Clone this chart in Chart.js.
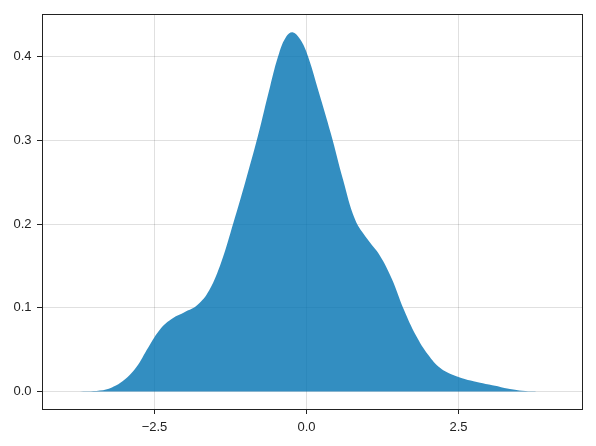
<!DOCTYPE html>
<html>
<head>
<meta charset="utf-8">
<script src="https://cdn.jsdelivr.net/npm/chart.js@4"></script>
<style>
html,body{margin:0;padding:0;background:#fff;}
#wrap{width:596px;height:446px;}
</style>
</head>
<body>
<div id="wrap"><canvas id="c" width="596" height="446"></canvas></div>
<script>
// Density curve
const xValues = [-3.85,-3.6,-3.4,-3.2,-3.0,-2.8,-2.6,-2.4,-2.2,-2.0,-1.8,-1.6,-1.4,-1.2,-1.0,-0.8,-0.6,-0.45,-0.33,-0.23,-0.12,0.0,0.2,0.4,0.6,0.8,1.0,1.2,1.4,1.6,1.8,2.0,2.2,2.4,2.6,2.8,3.0,3.2,3.4,3.6,3.9];
const densityValues = [0,0.0003,0.0012,0.005,0.0137,0.029,0.053,0.075,0.0875,0.095,0.103,0.121,0.155,0.202,0.252,0.305,0.364,0.404,0.424,0.429,0.422,0.405,0.358,0.308,0.253,0.205,0.182,0.163,0.135,0.098,0.067,0.044,0.028,0.020,0.015,0.0115,0.0083,0.0053,0.0024,0.0006,0];
const xTicks = [-2.5, 0.0, 2.5];
const yTicks = [0.0, 0.1, 0.2, 0.3, 0.4];

const points = xValues.map((x, i) => ({x: x, y: densityValues[i]}));
const fmt = v => v.toFixed(1).replace('-', '\u2212');

const framePlugin = {
  id: 'frame',
  afterDraw(chart) {
    const a = chart.chartArea, ctx = chart.ctx;
    ctx.save();
    ctx.strokeStyle = '#222';
    ctx.lineWidth = 1;
    ctx.strokeRect(Math.round(a.left) + 0.5, Math.round(a.top) + 0.5, Math.round(a.right - a.left), Math.round(a.bottom - a.top));
    ctx.restore();
  }
};

new Chart(document.getElementById('c'), {
  type: 'line',
  data: {
    datasets: [{
      data: points,
      fill: 'origin',
      backgroundColor: 'rgba(0,114,178,0.8)',
      borderWidth: 0,
      pointRadius: 0,
      tension: 0.4
    }]
  },
  options: {
    responsive: false,
    animation: false,
    events: [],
    layout: {padding: {left: 0, top: 14, right: 14, bottom: 0}},
    plugins: {legend: {display: false}, tooltip: {enabled: false}},
    scales: {
      x: {
        type: 'linear',
        min: -4.35, max: 4.53,
        afterBuildTicks: s => { s.ticks = xTicks.map(v => ({value: v})); },
        afterFit: s => { s.height = 37; },
        grid: {color: 'rgba(0,0,0,0.12)', tickColor: '#222', tickLength: 5, drawTicks: true},
        border: {display: false},
        ticks: {callback: v => fmt(v), color: '#222', font: {family: 'Liberation Sans', size: 13}, padding: 6, maxRotation: 0}
      },
      y: {
        type: 'linear',
        min: -0.0208, max: 0.4507,
        afterBuildTicks: s => { s.ticks = yTicks.map(v => ({value: v})); },
        afterFit: s => { s.width = 42; },
        grid: {color: 'rgba(0,0,0,0.12)', tickColor: '#222', tickLength: 5, drawTicks: true},
        border: {display: false},
        ticks: {callback: v => fmt(v), color: '#222', font: {family: 'Liberation Sans', size: 13}, padding: 5.5}
      }
    }
  },
  plugins: [framePlugin]
});
</script>
</body>
</html>
